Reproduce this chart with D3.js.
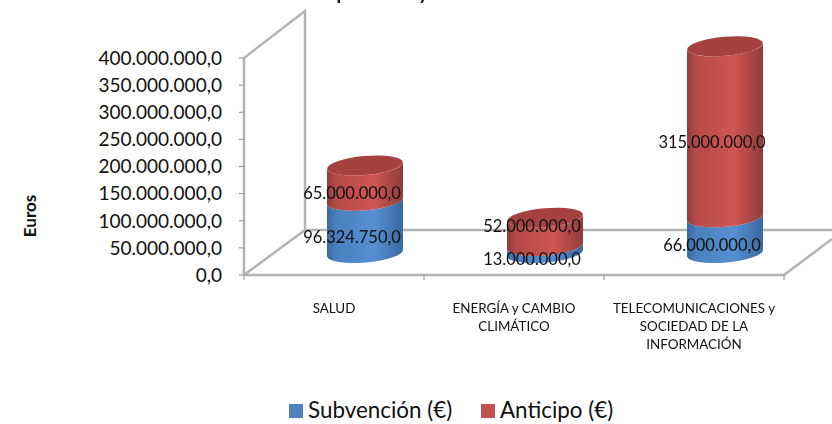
<!DOCTYPE html>
<html>
<head>
<meta charset="utf-8">
<script src="https://cdnjs.cloudflare.com/ajax/libs/d3/7.8.5/d3.min.js"></script>
<style>
  html, body { margin: 0; padding: 0; background: #fff; overflow: hidden; }
  text { font-family: Lato, "Open Sans", sans-serif; fill: #111; }
</style>
</head>
<body>
<svg id="chart" width="832" height="424"></svg>
<script>
const categories = [
    ["SALUD"],
    ["ENERGÍA y CAMBIO", "CLIMÁTICO"],
    ["TELECOMUNICACIONES y", "SOCIEDAD DE LA", "INFORMACIÓN"]
];
const subvencion = [96324750, 13000000, 66000000];
const anticipo = [65000000, 52000000, 315000000];
const yTicks = [0, 50000000, 100000000, 150000000, 200000000, 250000000, 300000000, 350000000, 400000000];
const legendLabels = ["Subvención (€)", "Anticipo (€)"];
const titleText = "Subvención por áreas y resultado de la convocatoria";
const yTitle = "Euros";

const svg = d3.select("#chart");
const defs = svg.append("defs");

// front plane of the fake 3d box
const x = d3.scaleBand().domain(d3.range(3)).range([244, 784]);
const y = d3.scaleLinear().domain([0, 400000000]).range([275, 58]);
const depthX = 61, depthY = -45;
const wallColor = "#b4b4b4";

const fmt = v => d3.format(",.1f")(v).replace(/,/g, "#").replace(".", ",").replace(/#/g, ".");

// walls and floor
const box = svg.append("g").attr("fill", "none").attr("stroke", wallColor).attr("stroke-width", 2.5);
box.append("path").attr("d", d3.line()([
    [x.range()[0], y(0)],
    [x.range()[0], y(400000000)],
    [x.range()[0] + depthX, y(400000000) + depthY - 2],
    [x.range()[0] + depthX, y(0) + depthY],
    [x.range()[0], y(0)]
]));
box.append("path").attr("d", d3.line()([
    [x.range()[0] + depthX, y(0) + depthY],
    [832, y(0) + depthY]
]));
box.append("path").attr("d", d3.line()([
    [x.range()[0], y(0)],
    [x.range()[1], y(0)],
    [x.range()[1] + 48, y(0) - 36]
]));

// ticks
yTicks.forEach(t => {
    svg.append("line").attr("x1", 239).attr("x2", 244).attr("y1", y(t)).attr("y2", y(t))
        .attr("stroke", "#8c8c8c").attr("stroke-width", 1);
    svg.append("text").attr("x", 222).attr("y", y(t)).attr("dy", "0.36em")
        .attr("text-anchor", "end").attr("font-size", 19).text(fmt(t));
});
d3.range(4).forEach(i => {
    const px = i < 3 ? x(i) : x.range()[1];
    svg.append("line").attr("x1", px).attr("x2", px).attr("y1", 275).attr("y2", 280)
        .attr("stroke", "#8c8c8c").attr("stroke-width", 1);
});

// gradients for the cylinders
function sideGradient(id, edge, mid) {
    const g = defs.append("linearGradient").attr("id", id);
    g.append("stop").attr("offset", "0%").attr("stop-color", edge);
    g.append("stop").attr("offset", "12%").attr("stop-color", d3.interpolateRgb(edge, mid)(0.6));
    g.append("stop").attr("offset", "62%").attr("stop-color", mid);
    g.append("stop").attr("offset", "100%").attr("stop-color", edge);
}
sideGradient("redSide", "#8f3d3b", "#cf5553");
sideGradient("blueSide", "#3a689f", "#5590d2");
defs.append("filter").attr("id", "soft").append("feGaussianBlur").attr("stdDeviation", 0.5);

const rx = 38, ry = 9.5, tilt = 0.09;

// band between two heights on the cylinder, with tilted elliptic ends
function cylinderPath(cx, yBottom, yTop) {
    const dy = tilt * rx;
    return `M${cx - rx},${yTop + dy}` +
        `L${cx - rx},${yBottom + dy}` +
        `A${rx},${ry} -5 0 0 ${cx + rx},${yBottom - dy}` +
        `L${cx + rx},${yTop - dy}` +
        `A${rx},${ry} -5 0 1 ${cx - rx},${yTop + dy}Z`;
}

const depthShift = -22;
const barCenter = i => x(i) + x.bandwidth() / 2 + 31;
const cyl = svg.append("g").attr("filter", "url(#soft)");
categories.forEach((c, i) => {
    const cx = barCenter(i);
    const yA = y(0) + depthShift;
    const yB = y(subvencion[i]) + depthShift;
    const yC = y(subvencion[i] + anticipo[i]) + depthShift;
    cyl.append("path").attr("d", cylinderPath(cx, yA, yB)).attr("fill", "url(#blueSide)");
    cyl.append("path").attr("d", cylinderPath(cx, yB, yC)).attr("fill", "url(#redSide)");
    cyl.append("ellipse").attr("cx", cx).attr("cy", yC).attr("rx", rx).attr("ry", ry)
        .attr("transform", `rotate(-5 ${cx} ${yC})`).attr("fill", "#a54240");
});

// data labels sit 12px above the middle of their segment on the front plane
categories.forEach((c, i) => {
    const lx = barCenter(i) - 13;
    const redNudge = i === 1 ? -16 : 0; // this one was moved up in the original
    svg.append("text").attr("x", lx).attr("y", y(subvencion[i] + anticipo[i] / 2) - 12 + redNudge)
        .attr("dy", "0.36em").attr("text-anchor", "middle")
        .attr("font-size", 16.5).text(fmt(anticipo[i]));
    svg.append("text").attr("x", lx).attr("y", y(subvencion[i] / 2) - 12)
        .attr("dy", "0.36em").attr("text-anchor", "middle")
        .attr("font-size", 16.5).text(fmt(subvencion[i]));
});

// category labels
categories.forEach((lines, i) => {
    const cx = x(i) + x.bandwidth() / 2;
    lines.forEach((l, j) => {
        svg.append("text").attr("x", cx).attr("y", 313 + j * 18).attr("text-anchor", "middle")
            .attr("font-size", 13.4).text(l);
    });
});

// title, cut off by the top of the picture
svg.append("text").attr("x", 452).attr("y", 0).attr("text-anchor", "middle")
    .attr("font-size", 19).attr("font-weight", 700).text(titleText);

svg.append("text").attr("transform", "translate(36,216) rotate(-90)").attr("text-anchor", "middle")
    .attr("font-size", 17).attr("font-weight", 700).text(yTitle);

// legend
const legendX = [289, 481];
const legendFill = ["#4f81bd", "#c0504d"];
legendLabels.forEach((l, i) => {
    svg.append("rect").attr("x", legendX[i]).attr("y", 404).attr("width", 14).attr("height", 14).attr("fill", legendFill[i]);
    svg.append("text").attr("x", legendX[i] + 19).attr("y", 418).attr("font-size", 22.4).text(l);
});
</script>
</body>
</html>
